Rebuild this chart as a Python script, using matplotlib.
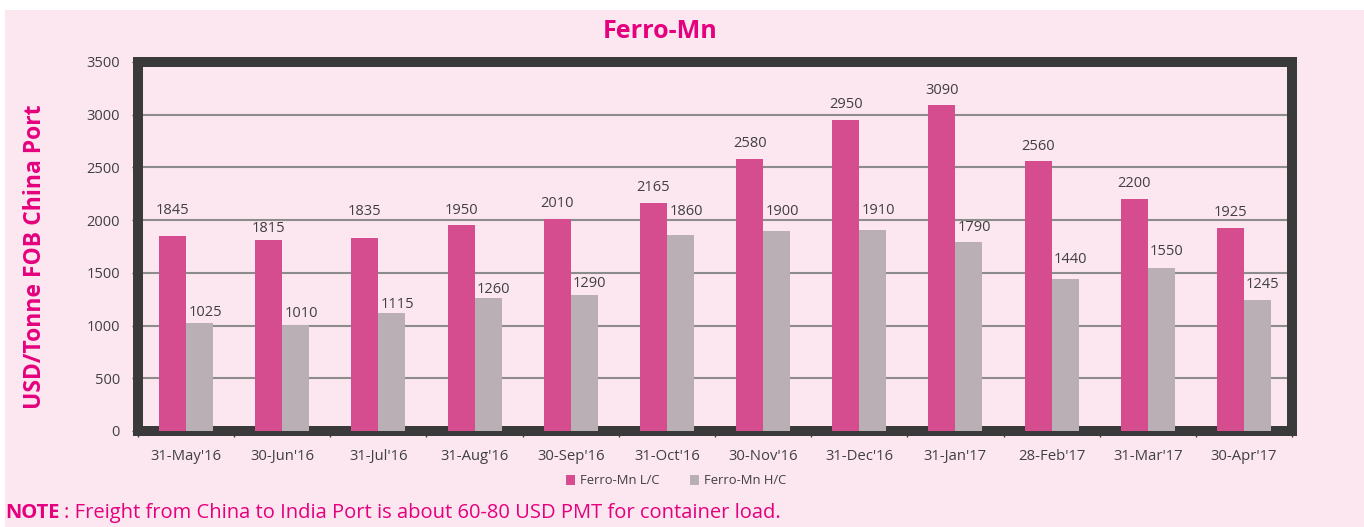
import numpy as np
import matplotlib.pyplot as plt
from matplotlib.patches import Rectangle

# Data
months = ["31-May'16", "30-Jun'16", "31-Jul'16", "31-Aug'16", "30-Sep'16", "31-Oct'16",
          "30-Nov'16", "31-Dec'16", "31-Jan'17", "28-Feb'17", "31-Mar'17", "30-Apr'17"]
lc_values = [1845, 1815, 1835, 1950, 2010, 2165, 2580, 2950, 3090, 2560, 2200, 1925]
hc_values = [1025, 1010, 1115, 1260, 1290, 1860, 1900, 1910, 1790, 1440, 1550, 1245]

# label gap above each bar (px) - labels were placed by hand in the original
lc_gap = [26, 11, 26, 15, 16, 15, 15, 15, 15, 15, 16, 16]
hc_gap = [10, 11, 9, 9, 11, 23, 19, 19, 15, 20, 16, 15]

plt.rcParams['font.family'] = ['Open Sans', 'DejaVu Sans']

pink_bg = '#FCE6EF'
magenta = '#E5007E'
lc_color = '#D64D8F'
hc_color = '#BBAFB6'
text_color = '#404040'

W, H = 1364, 527
fig = plt.figure(figsize=(W / 100, H / 100), dpi=100)
fig.patch.set_facecolor('white')
fig.patches.append(Rectangle((5 / W, 0), 1 - 5 / W, 1 - 10 / H, transform=fig.transFigure,
                             facecolor=pink_bg, edgecolor='none', zorder=-10))

ax = fig.add_axes([138 / W, 1 - 431 / H, (1292 - 138) / W, (431 - 62) / H])
ax.set_facecolor(pink_bg)

x = np.arange(len(months))
bw = 0.28
b1 = ax.bar(x - bw / 2, lc_values, bw, color=lc_color, label='Ferro-Mn L/C', zorder=3)
b2 = ax.bar(x + bw / 2, hc_values, bw, color=hc_color, label='Ferro-Mn H/C', zorder=3)

for i in range(len(months)):
    ax.annotate(str(lc_values[i]), (x[i] - bw / 2, lc_values[i]), xytext=(0, lc_gap[i] * 0.72),
                textcoords='offset points', ha='center', va='center', fontsize=10.5, color=text_color)
    ax.annotate(str(hc_values[i]), (x[i] + bw / 2, hc_values[i]), xytext=(4, hc_gap[i] * 0.72),
                textcoords='offset points', ha='center', va='center', fontsize=10.5, color=text_color)

ax.set_xlim(-0.5, len(months) - 0.5)
ax.set_ylim(0, 3500)
ax.set_yticks(range(0, 3501, 500))
ax.yaxis.grid(True, color='#8C8C8C', lw=1.5, zorder=1)
ax.set_axisbelow(True)

ax.set_xticks(x)
ax.set_xticklabels(months, fontsize=10.7, color=text_color)
ax.set_xticks(np.arange(-0.5, len(months), 1), minor=True)
ax.tick_params(axis='x', which='major', length=0, pad=13)
ax.tick_params(axis='x', which='minor', length=4, width=1, color='#404040', direction='out')
ax.tick_params(axis='y', length=4, width=1, color='#404040', labelsize=10.5, labelcolor=text_color, pad=9)

for s in ax.spines.values():
    s.set_linewidth(7.2)
    s.set_color('#3A3A3A')

ax.set_ylabel('USD/Tonne FOB China Port', fontsize=16.5, fontweight='bold', color=magenta, va='center')
ax.yaxis.set_label_coords((35 - 138) / 1154, (431 - 257) / 369)
fig.text(660 / W, 1 - 32 / H, 'Ferro-Mn', fontsize=18, fontweight='bold', color=magenta,
         ha='center', va='center')

fig.legend(handles=[b1, b2], loc='center', bbox_to_anchor=(676 / W, 1 - 481 / H), ncol=2,
           frameon=False, fontsize=9.4, handlelength=0.7, handleheight=0.7, columnspacing=2.3,
           handletextpad=0.4, labelcolor=text_color)

fig.text(5 / W, 1 - 513 / H, 'NOTE', fontsize=14.5, fontweight='bold', color=magenta, va='center')
fig.text(64 / W, 1 - 513 / H, ': Freight from China to India Port is about 60-80 USD PMT for container load.',
         fontsize=14.5, color=magenta, va='center')

fig.savefig('out.png', dpi=100, facecolor=fig.get_facecolor())
